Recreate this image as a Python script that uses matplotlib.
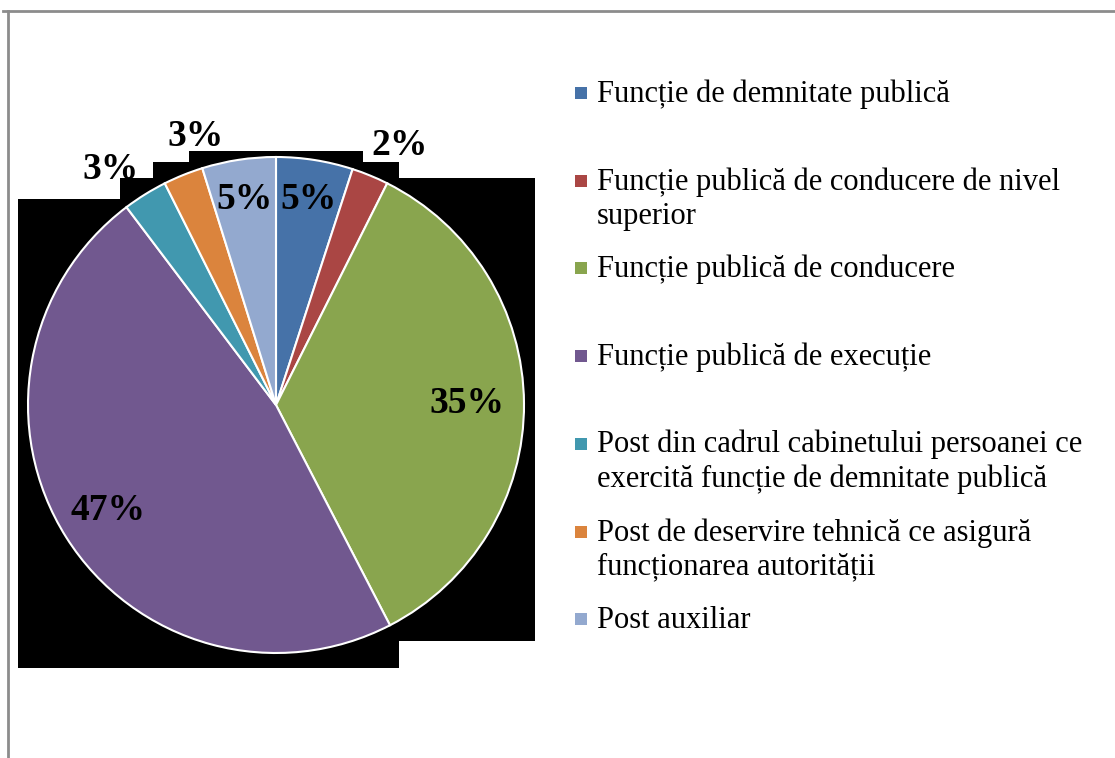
import numpy as np
import matplotlib.pyplot as plt
from matplotlib.patches import Polygon, Rectangle
from matplotlib.lines import Line2D

# Date
categorii = [
    'Funcție de demnitate publică',
    'Funcție publică de conducere de nivel\nsuperior',
    'Funcție publică de conducere',
    'Funcție publică de execuție',
    'Post din cadrul cabinetului persoanei ce\nexercită funcție de demnitate publică',
    'Post de deservire tehnică ce asigură\nfuncționarea autorității',
    'Post auxiliar',
]
procente = [5.0, 2.4, 35.0, 47.3, 2.9, 2.6, 4.8]
culori = ['#4672A8', '#AA4644', '#89A54E', '#71588F', '#4198AF', '#DB843D', '#93A9CF']

# pozitia etichetelor (raza relativa, deplasare in grade in sensul acelor)
raza_eticheta = [0.84, 1.16, 0.77, 0.80, 1.16, 1.13, 0.84]
deplasare = [0, 3.2, 0, 0, -3.3, 5.2, 0]

W, H = 1115, 758
fig = plt.figure(figsize=(W / 100, H / 100), dpi=100)

def px(x, y):
    return x / W, 1 - y / H

# chenarul gri
fig.add_artist(Line2D([3 / W, 1], [1 - 11 / H] * 2, color='#8c8c8c', lw=2))
fig.add_artist(Line2D([8 / W] * 2, [1 - 11 / H, 0], color='#8c8c8c', lw=2))

# zona neagra din spatele graficului
contur = [(18, 199), (120, 199), (120, 178), (153, 178), (153, 162), (189, 162),
          (189, 151), (363, 151), (363, 162), (399, 162), (399, 178), (535, 178),
          (535, 641), (399, 641), (399, 668), (18, 668)]
fig.add_artist(Polygon([px(*p) for p in contur], closed=True,
                       facecolor='black', edgecolor='none', zorder=0))

# placinta
cx, cy, r = 276, 405, 248
ax = fig.add_axes([(cx - r) / W, 1 - (cy + r) / H, 2 * r / W, 2 * r / H])
ax.set_facecolor('none')
wedges, _ = ax.pie(procente, colors=culori, startangle=90, counterclock=False,
                   wedgeprops=dict(edgecolor='white', linewidth=1.5))
ax.set_xlim(-1, 1)
ax.set_ylim(-1, 1)
ax.set_aspect('equal')
ax.axis('off')

for w, p, rr, d in zip(wedges, procente, raza_eticheta, deplasare):
    unghi = np.deg2rad((w.theta1 + w.theta2) / 2 - d)
    ax.text(rr * np.cos(unghi), rr * np.sin(unghi), '%.0f%%' % p,
            ha='center', va='center', fontsize=27, fontweight='bold',
            family='Liberation Serif', color='black', clip_on=False)

# legenda
for i, (cat, c) in enumerate(zip(categorii, culori)):
    yb = 102 + i * 87.7
    fig.add_artist(Rectangle(px(575, yb - 3), 12 / W, 12 / H, facecolor=c,
                             edgecolor='none'))
    # baseline se aplica ultimului rand
    yl = yb + cat.count('\n') * 34
    fig.text(*px(597, yl), cat, ha='left', va='baseline', fontsize=22,
             family='Liberation Serif', linespacing=1.22)

fig.savefig('out.png', dpi=100)
